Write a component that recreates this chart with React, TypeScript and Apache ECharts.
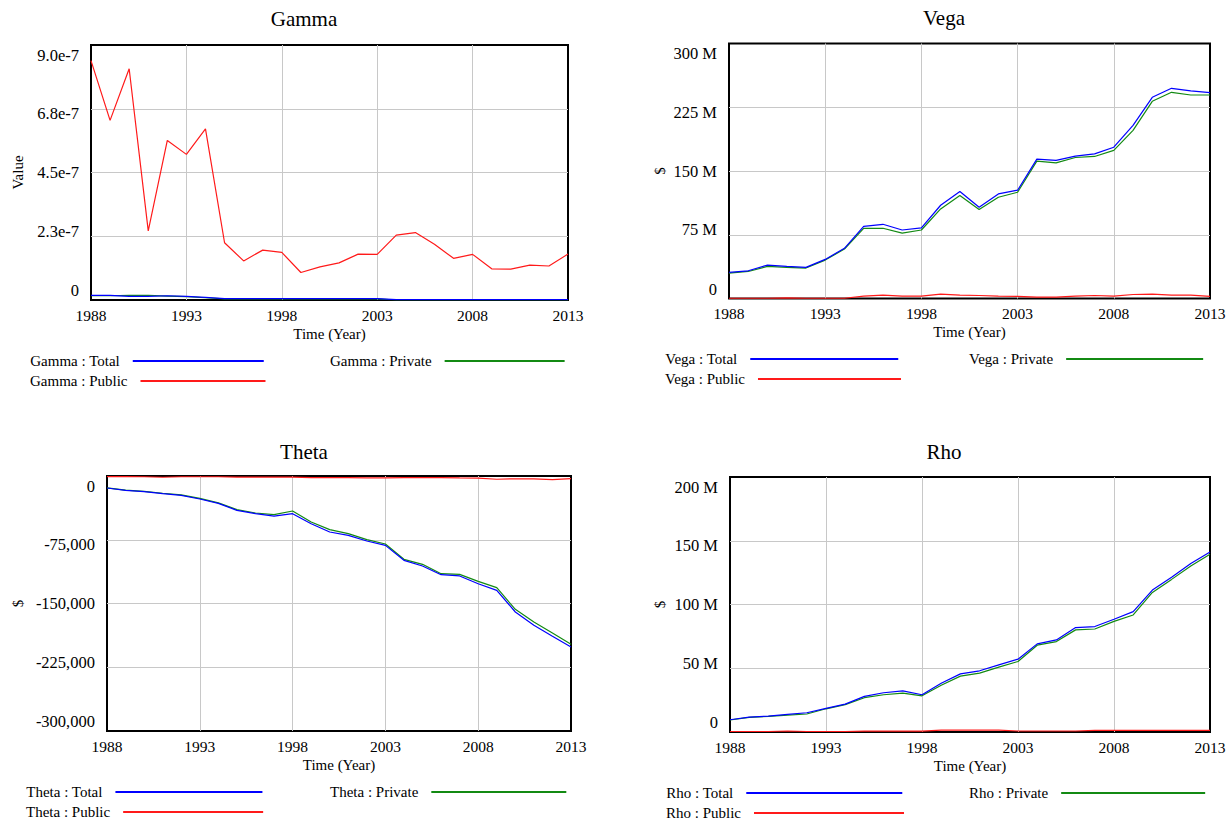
import React, { useEffect, useRef } from 'react';
import * as echarts from 'echarts';

const FONT = '"Liberation Serif", "Times New Roman", serif';

const years = ['1988','1989','1990','1991','1992','1993','1994','1995','1996','1997','1998','1999','2000','2001','2002','2003','2004','2005','2006','2007','2008','2009','2010','2011','2012','2013'];

// Gamma (units of 1e-7)
const gammaTotal = [0.16,0.16,0.13,0.13,0.15,0.13,0.09,0.05,0.05,0.05,0.05,0.05,0.05,0.05,0.05,0.05,0.01,0.01,0.01,0.01,0.01,0.01,0.01,0.01,0.01,0.01];
const gammaPrivate = [0.15,0.15,0.16,0.16,0.14,0.12,0.08,0.04,0.04,0.04,0.04,0.04,0.04,0.04,0.04,0.04,0.0,0.0,0.0,0.0,0.0,0.0,0.0,0.0,0.0,0.0];
const gammaPublic = [8.45,6.34,8.16,2.44,5.63,5.14,6.04,2.02,1.38,1.76,1.68,0.97,1.17,1.31,1.62,1.61,2.29,2.38,1.97,1.47,1.61,1.10,1.09,1.23,1.20,1.62];
const gammaTicks = ['0','2.3e-7','4.5e-7','6.8e-7','9.0e-7'];

// Vega (millions of $)
const vegaTotal = [30.7,32.6,39.3,37.7,36.6,46.0,59.0,84.9,87.3,80.6,83.0,109.7,125.8,107.3,123.0,127.4,164.0,162.4,167.5,170.2,178.0,203.7,236.7,247.3,244.2,242.2];
const vegaPrivate = [29.9,31.8,37.7,36.6,35.8,45.2,58.2,82.6,82.6,77.0,80.6,105.4,121.1,104.6,119.1,125.0,161.6,159.6,165.9,167.1,174.2,197.8,232.0,242.6,239.4,239.4];
const vegaPublic = [0.3,0.3,0.3,0.8,0.3,0.3,0.3,2.7,3.9,2.7,2.7,5.1,3.9,3.5,2.7,2.4,1.6,1.6,2.7,3.5,2.7,4.7,5.1,3.9,3.9,2.4];
const vegaTicks = ['0','75 M','150 M','225 M','300 M'];

// Theta ($)
const thetaTotal = [-14100,-16900,-18400,-20800,-22700,-27100,-32200,-40400,-44300,-47100,-44300,-56100,-65900,-69800,-76500,-81600,-99200,-105900,-116100,-117600,-126700,-134500,-160000,-175700,-188600,-201200];
const thetaPrivate = [-14000,-16700,-18100,-20300,-22200,-26300,-31600,-39600,-43500,-45500,-41200,-54100,-63100,-67800,-74900,-80000,-98000,-103900,-114900,-115700,-123900,-131400,-156900,-171800,-184700,-198000];
const thetaPublic = [-800,-800,-900,-1500,-900,-900,-900,-1300,-1300,-1300,-1300,-2000,-2000,-2000,-2300,-2300,-1800,-1800,-1800,-2300,-2500,-3800,-3300,-3300,-4300,-3000];
const thetaTicks = ['-300,000','-225,000','-150,000','-75,000','0'];

// Rho (millions of $)
const rhoTotal = [9.6,11.7,12.5,13.8,15.1,18.5,21.9,27.9,30.8,32.3,29.2,38.3,45.6,48.0,52.7,57.1,69.1,72.2,81.9,82.7,88.4,94.4,111.3,121.3,132.2,141.1];
const rhoPrivate = [9.4,11.5,12.2,13.3,14.1,18.2,21.5,26.9,29.2,30.5,28.4,36.7,43.8,46.2,50.9,55.3,68.1,70.9,80.1,80.8,86.8,91.8,109.5,119.7,130.2,139.5];
const rhoPublic = [0.4,0.4,0.4,0.8,0.4,0.4,0.4,0.7,0.7,0.7,0.7,1.5,1.5,1.5,1.5,0.8,0.8,0.8,0.8,1.3,1.3,1.3,1.3,1.3,1.3,1.3];
const rhoTicks = ['0','50 M','100 M','150 M','200 M'];

const BLUE = '#0000ff';
const GREEN = '#138a13';
const RED = '#ff1a1a';

const panels = [
  { key: 'Gamma', title: 'Gamma', titleX: 304, titleY: 8, grid: { left: 91, top: 45, width: 477, height: 255 }, min: 0, max: 9, interval: 2.25, ticks: gammaTicks, yName: 'Value', yGap: 66, total: gammaTotal, priv: gammaPrivate, pub: gammaPublic,
    legend: { x1: 30, x2: 330, y1: 361, y2: 381, wTotal: 131, wPrivate: 120, wPublic: 125 } },
  { key: 'Vega', title: 'Vega', titleX: 944, titleY: 7, grid: { left: 729, top: 43.5, width: 481, height: 255 }, min: 0, max: 300, interval: 75, ticks: vegaTicks, yName: '$', yGap: 62, total: vegaTotal, priv: vegaPrivate, pub: vegaPublic,
    legend: { x1: 665, x2: 969, y1: 359, y2: 379, wTotal: 148, wPrivate: 137, wPublic: 143 } },
  { key: 'Theta', title: 'Theta', titleX: 304, titleY: 441, grid: { left: 107, top: 476, width: 464, height: 255 }, min: -300000, max: 0, interval: 75000, ticks: thetaTicks, yName: '$', yGap: 82, total: thetaTotal, priv: thetaPrivate, pub: thetaPublic,
    legend: { x1: 26, x2: 330, y1: 792, y2: 812, wTotal: 147, wPrivate: 135, wPublic: 140 } },
  { key: 'Rho', title: 'Rho', titleX: 944, titleY: 441, grid: { left: 730, top: 477, width: 480, height: 255 }, min: 0, max: 200, interval: 50, ticks: rhoTicks, yName: '$', yGap: 63, total: rhoTotal, priv: rhoPrivate, pub: rhoPublic,
    legend: { x1: 666, x2: 969, y1: 793, y2: 813, wTotal: 156, wPrivate: 144, wPublic: 150 } },
];

function legendItem(name: string, left: number, cy: number, width: number) {
  return {
    data: [name],
    left,
    top: cy - 7.5,
    padding: 0,
    align: 'right',
    orient: 'horizontal',
    itemWidth: width,
    itemHeight: 2,
    icon: 'rect',
    selectedMode: false,
    textStyle: { fontFamily: FONT, fontSize: 15, color: '#000', padding: [0, 8, 0, 0] },
  };
}

export default function App() {
  const ref = useRef<HTMLDivElement>(null);
  useEffect(() => {
    if (!ref.current) return;
    const chart = echarts.init(ref.current, undefined, { renderer: 'svg' });
    const titles: any[] = [];
    const grids: any[] = [];
    const xAxes: any[] = [];
    const yAxes: any[] = [];
    const series: any[] = [];
    const legends: any[] = [];
    const gridLine = { color: '#c8c8c8', width: 1 };
    panels.forEach((p, i) => {
      titles.push({
        text: p.title, left: p.titleX, top: p.titleY, textAlign: 'center', padding: 0,
        textStyle: { fontFamily: FONT, fontSize: 21, fontWeight: 'normal', color: '#000' },
      });
      grids.push({ ...p.grid, show: true, borderColor: '#000', borderWidth: 2, backgroundColor: '#fff' });
      xAxes.push({
        type: 'category', gridIndex: i, data: years, boundaryGap: false,
        name: 'Time (Year)', nameLocation: 'middle', nameGap: 26,
        nameTextStyle: { fontFamily: FONT, fontSize: 15, color: '#000' },
        axisLine: { show: false }, axisTick: { show: false },
        axisLabel: { interval: 4, margin: 7, fontFamily: FONT, fontSize: 15.5, color: '#000' },
        splitLine: { show: true, interval: 4, showMinLine: false, showMaxLine: false, lineStyle: gridLine },
      });
      const ticks = p.ticks;
      const mn = p.min;
      const iv = p.interval;
      const base = { fontFamily: FONT, fontSize: 16.5, color: '#000' };
      yAxes.push({
        type: 'value', gridIndex: i, min: p.min, max: p.max, interval: p.interval,
        name: p.yName, nameLocation: 'middle', nameGap: p.yGap,
        nameTextStyle: { fontFamily: FONT, fontSize: 15, color: '#000' },
        axisLine: { show: false }, axisTick: { show: false },
        splitLine: { show: true, showMinLine: false, showMaxLine: false, lineStyle: gridLine },
        axisLabel: {
          margin: 12, ...base,
          formatter: (v: number) => {
            const k = Math.round((v - mn) / iv);
            return '{p' + k + '|' + ticks[k] + '}';
          },
          rich: {
            p0: { ...base, padding: [0, 0, 19, 0] },
            p1: { ...base, padding: [0, 0, 10, 0] },
            p2: { ...base },
            p3: { ...base, padding: [10, 0, 0, 0] },
            p4: { ...base, padding: [20, 0, 0, 0] },
          },
        },
      });
      const mk = (name: string, data: number[], color: string, z: number) => ({
        name, type: 'line', xAxisIndex: i, yAxisIndex: i, data, symbol: 'none', showSymbol: false,
        color, lineStyle: { color, width: 1.2 }, z,
      });
      series.push(mk(p.key + ' : Private', p.priv, GREEN, 2));
      series.push(mk(p.key + ' : Total', p.total, BLUE, 3));
      series.push(mk(p.key + ' : Public', p.pub, RED, 4));
      const L = p.legend;
      legends.push(legendItem(p.key + ' : Total', L.x1, L.y1, L.wTotal));
      legends.push(legendItem(p.key + ' : Private', L.x2, L.y1, L.wPrivate));
      legends.push(legendItem(p.key + ' : Public', L.x1, L.y2, L.wPublic));
    });
    chart.setOption({
      animation: false,
      backgroundColor: '#fff',
      title: titles,
      grid: grids,
      xAxis: xAxes,
      yAxis: yAxes,
      legend: legends,
      series,
    });
    return () => chart.dispose();
  }, []);
  return <div ref={ref} style={{ position: 'fixed', left: 0, top: 0, width: 1232, height: 821, background: '#fff' }} />;
}
